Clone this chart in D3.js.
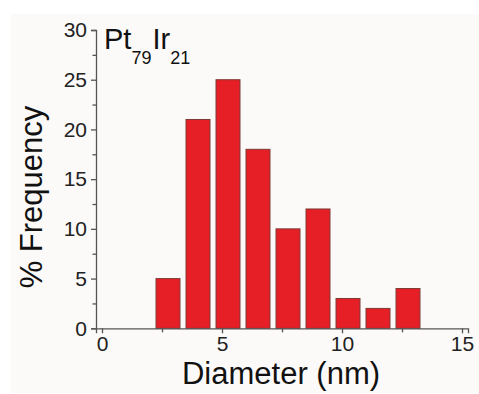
<!DOCTYPE html>
<html>
<head>
<meta charset="utf-8">
<script src="https://cdn.jsdelivr.net/npm/d3@7"></script>
<style>
  html, body { margin: 0; padding: 0; background: #ffffff; }
  svg { display: block; font-family: "Liberation Sans", Arial, sans-serif; }
</style>
</head>
<body>
<svg id="chart" width="479" height="394"></svg>
<script>
// Particle size distribution (histogram bins)
const binCenters = [2.75, 4, 5.25, 6.5, 7.75, 9, 10.25, 11.5, 12.75];
const frequency  = [5, 21, 25, 18, 10, 12, 3, 2, 4];
const binWidth = 1.0;

const xMajorTicks = [0, 5, 10, 15];
const xMinorTicks = [2.5, 7.5, 12.5];
const yMajorTicks = [0, 5, 10, 15, 20, 25, 30];
const yMinorTicks = [2.5, 7.5, 12.5, 17.5, 22.5, 27.5];

const svg = d3.select("#chart");

// light panel behind the plot
svg.append("rect")
  .attr("x", 11).attr("y", 14)
  .attr("width", 468).attr("height", 379)
  .attr("fill", "#fbfaf8");

const x = d3.scaleLinear().domain([-0.25, 15.25]).range([96, 468]);
const y = d3.scaleLinear().domain([0, 30]).range([328.3, 30]);

const axisColor = "#555";
const labelFont = "Liberation Sans, Arial, sans-serif";

// bars
svg.append("g").selectAll("rect")
  .data(binCenters.map((c, i) => ({ c, v: frequency[i] })))
  .join("rect")
  .attr("x", d => x(d.c - binWidth / 2))
  .attr("width", d => x(d.c + binWidth / 2) - x(d.c - binWidth / 2))
  .attr("y", d => y(d.v))
  .attr("height", d => y(0) - y(d.v))
  .attr("fill", "#e61f26")
  .attr("stroke", "#7d3a36")
  .attr("stroke-width", 1);

// x axis
const xAxis = d3.axisBottom(x).tickValues(xMajorTicks).tickSize(5).tickPadding(3)
  .tickFormat(d3.format("d"));
const gx = svg.append("g").attr("transform", `translate(0,${y(0)})`).call(xAxis);
gx.attr("font-size", 21).attr("font-family", labelFont);
gx.select(".domain").attr("stroke", axisColor).attr("stroke-width", 1.3);
gx.selectAll(".tick line").attr("stroke", axisColor).attr("stroke-width", 1.3);
gx.selectAll(".tick text").attr("fill", "#222");
const gxm = svg.append("g").attr("transform", `translate(0,${y(0)})`)
  .call(d3.axisBottom(x).tickValues(xMinorTicks).tickSize(4).tickFormat(""));
gxm.select(".domain").remove();
gxm.selectAll(".tick line").attr("stroke", axisColor).attr("stroke-width", 1.3);

// y axis
const yAxis = d3.axisLeft(y).tickValues(yMajorTicks).tickSize(5).tickPadding(4)
  .tickFormat(d3.format("d"));
const gy = svg.append("g").attr("transform", `translate(${x(-0.25)},0)`).call(yAxis);
gy.attr("font-size", 21).attr("font-family", labelFont);
gy.select(".domain").attr("stroke", axisColor).attr("stroke-width", 1.3);
gy.selectAll(".tick line").attr("stroke", axisColor).attr("stroke-width", 1.3);
gy.selectAll(".tick text").attr("fill", "#222");
const gym = svg.append("g").attr("transform", `translate(${x(-0.25)},0)`)
  .call(d3.axisLeft(y).tickValues(yMinorTicks).tickSize(3.5).tickFormat(""));
gym.select(".domain").remove();
gym.selectAll(".tick line").attr("stroke", axisColor).attr("stroke-width", 1.3);

// axis titles
svg.append("text")
  .attr("x", 281).attr("y", 384)
  .attr("text-anchor", "middle")
  .attr("font-size", 31).attr("fill", "#111")
  .text("Diameter (nm)");

svg.append("text")
  .attr("transform", "translate(42,197) rotate(-90)")
  .attr("text-anchor", "middle")
  .attr("font-size", 31).attr("fill", "#111")
  .text("% Frequency");

// composition label
const comp = svg.append("text")
  .attr("x", 104).attr("y", 48.5)
  .attr("font-size", 29).attr("fill", "#111");
comp.append("tspan").text("Pt");
comp.append("tspan").attr("font-size", 18).attr("dy", 15).text("79");
comp.append("tspan").attr("dy", -15).attr("dx", 1).text("Ir");
comp.append("tspan").attr("font-size", 18).attr("dy", 15).text("21");
</script>
</body>
</html>
